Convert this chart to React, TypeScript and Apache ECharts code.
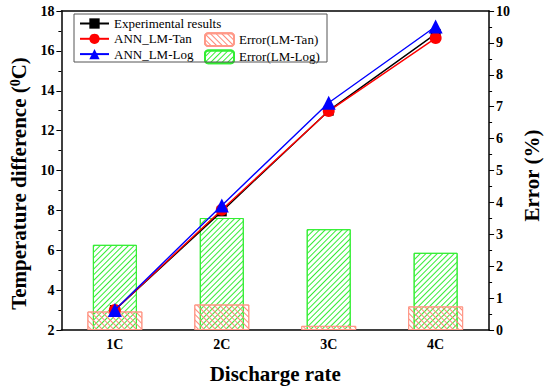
import React, { useEffect, useRef } from "react";
import * as echarts from "echarts";

const categories = ["1C", "2C", "3C", "4C"];
const experimental = [3.0, 7.95, 13.0, 16.85];
const annTan = [3.0, 8.03, 12.98, 16.64];
const annLog = [3.0, 8.25, 13.4, 17.22];
const errTan = [0.58, 0.8, 0.13, 0.74];
const errLog = [2.67, 3.51, 3.16, 2.42];

const FONT = "Liberation Serif";

export default function App() {
  const ref = useRef<HTMLDivElement>(null);
  useEffect(() => {
    if (!ref.current) return;
    const chart = echarts.init(ref.current, null, { renderer: "svg" });
    const hatch = (color: string, rot: number) => ({
      symbol: "rect",
      symbolSize: 1,
      color,
      dashArrayX: [1, 0],
      dashArrayY: [1, 2.2],
      rotation: rot,
    });
    const legendText = { fontFamily: FONT, fontSize: 13, color: "#000" };
    chart.setOption({
      animation: false,
      backgroundColor: "#fff",
      textStyle: { fontFamily: FONT },
      grid: { left: 57, right: 57, top: 11, bottom: 57 },
      legend: [
        {
          orient: "vertical",
          left: 79,
          top: 17,
          itemGap: 2.3,
          itemWidth: 29,
          itemHeight: 12.9,
          textStyle: legendText,
          padding: 0,
          data: ["Experimental results", "ANN_LM-Tan", "ANN_LM-Log"],
        },
        {
          orient: "vertical",
          left: 204,
          top: 32.2,
          itemGap: 2.3,
          itemWidth: 29,
          itemHeight: 12.9,
          textStyle: legendText,
          padding: 0,
          data: ["Error(LM-Tan)", "Error(LM-Log)"],
        },
      ],
      graphic: [
        {
          type: "rect",
          shape: { x: 74, y: 14, width: 253, height: 48 },
          style: { fill: "none", stroke: "#555", lineWidth: 1 },
          z: 10,
        },
      ],
      xAxis: [
        {
          type: "category",
          data: categories,
          position: "bottom",
          axisLine: { lineStyle: { color: "#000", width: 1.5 } },
          axisTick: { alignWithLabel: true, length: 4, lineStyle: { color: "#000" } },
          axisLabel: { fontFamily: FONT, fontWeight: "bold", fontSize: 14, color: "#000", margin: 7 },
          name: "Discharge rate",
          nameLocation: "middle",
          nameGap: 33,
          nameTextStyle: { fontFamily: FONT, fontWeight: "bold", fontSize: 21, color: "#000" },
        },
        {
          type: "category",
          data: categories,
          position: "top",
          axisLine: { lineStyle: { color: "#000", width: 1.5 } },
          axisTick: { show: false },
          axisLabel: { show: false },
        },
      ],
      yAxis: [
        {
          type: "value",
          min: 2,
          max: 18,
          interval: 2,
          position: "left",
          splitLine: { show: false },
          axisLine: { show: true, lineStyle: { color: "#000", width: 1.5 } },
          axisTick: { show: true, length: 5, lineStyle: { color: "#000" } },
          minorTick: { show: true, splitNumber: 2, length: 3, lineStyle: { color: "#000" } },
          axisLabel: { fontFamily: FONT, fontWeight: "bold", fontSize: 14, color: "#000", margin: 7 },
          name: "Temperature difference ({sup|0}C)",
          nameLocation: "middle",
          nameGap: 28,
          nameTextStyle: {
            fontFamily: FONT,
            fontWeight: "bold",
            fontSize: 21,
            color: "#000",
            padding: [0, 26, 0, 0],
            rich: {
              sup: { fontFamily: FONT, fontWeight: "bold", fontSize: 14, color: "#000", verticalAlign: "top", padding: [0, 0, 8, 0] },
            },
          },
        },
        {
          type: "value",
          min: 0,
          max: 10,
          interval: 1,
          position: "right",
          splitLine: { show: false },
          axisLine: { show: true, lineStyle: { color: "#000", width: 1.5 } },
          axisTick: { show: true, length: 5, lineStyle: { color: "#000" } },
          minorTick: { show: true, splitNumber: 2, length: 3, lineStyle: { color: "#000" } },
          axisLabel: { fontFamily: FONT, fontWeight: "bold", fontSize: 14, color: "#000", margin: 7 },
          name: "Error (%)",
          nameLocation: "middle",
          nameGap: 30,
          nameTextStyle: { fontFamily: FONT, fontWeight: "bold", fontSize: 21, color: "#000", padding: [0, 10, 0, 0] },
        },
      ],
      series: [
        {
          name: "Error(LM-Log)",
          type: "bar",
          xAxisIndex: 0,
          yAxisIndex: 1,
          data: errLog,
          barWidth: 44,
          itemStyle: {
            color: "rgba(255,255,255,0)",
            borderColor: "#33ee33",
            borderWidth: 1,
            decal: hatch("#33ee33", -Math.PI / 4),
          },
          z: 1,
        },
        {
          name: "Error(LM-Tan)",
          type: "bar",
          xAxisIndex: 1,
          yAxisIndex: 1,
          data: errTan,
          barWidth: 55,
          itemStyle: {
            color: "rgba(255,255,255,0)",
            borderColor: "#ff9988",
            borderWidth: 1,
            decal: hatch("#ff8877", Math.PI / 4),
          },
          z: 2,
        },
        {
          name: "Experimental results",
          type: "line",
          yAxisIndex: 0,
          data: experimental,
          symbol: "rect",
          symbolSize: 10,
          lineStyle: { color: "#000", width: 1.4 },
          itemStyle: { color: "#000" },
          z: 3,
        },
        {
          name: "ANN_LM-Tan",
          type: "line",
          yAxisIndex: 0,
          data: annTan,
          symbol: "circle",
          symbolSize: 12,
          lineStyle: { color: "#ff0000", width: 1.4 },
          itemStyle: { color: "#ff0000" },
          z: 4,
        },
        {
          name: "ANN_LM-Log",
          type: "line",
          yAxisIndex: 0,
          data: annLog,
          symbol: "triangle",
          symbolSize: 14,
          lineStyle: { color: "#0000ff", width: 1.4 },
          itemStyle: { color: "#0000ff" },
          z: 5,
        },
      ],
    });
    return () => chart.dispose();
  }, []);
  return <div ref={ref} style={{ width: 550, height: 389, position: "absolute", left: 0, top: 0 }} />;
}
